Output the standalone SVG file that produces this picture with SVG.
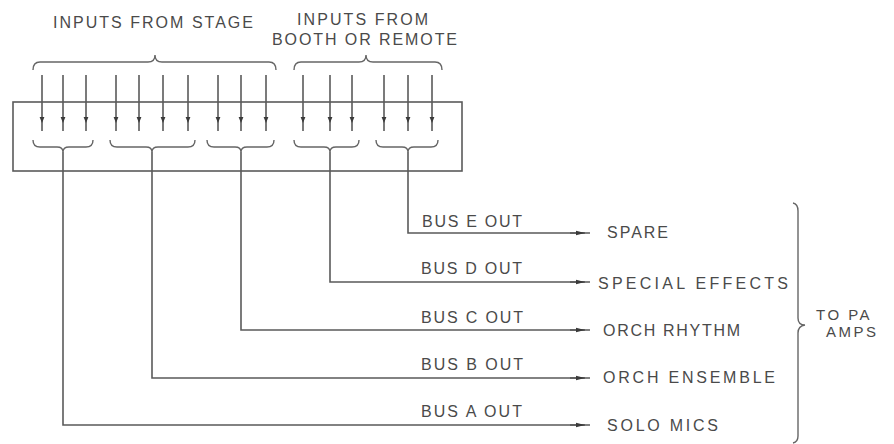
<svg xmlns="http://www.w3.org/2000/svg" width="894" height="444" viewBox="0 0 894 444">
<defs>
<style>
.ln{fill:none;stroke:#5a5a5a;stroke-width:1.6}
.br{fill:none;stroke:#666;stroke-width:1.4}
.t{font-family:"Liberation Sans",Arial,sans-serif;font-size:16px;fill:#4a4a4a}
.pa{font-family:"Liberation Sans",Arial,sans-serif;font-size:15px;fill:#4a4a4a;letter-spacing:2.5px}
</style>
<marker id="ah" viewBox="0 0 10 10" refX="10" refY="5" markerWidth="6" markerHeight="6" orient="auto" markerUnits="userSpaceOnUse">
<path d="M0,1 L10,5 L0,9 Z" fill="#3a3a3a"/>
</marker>
<marker id="ao" viewBox="0 0 12 8" refX="12" refY="4" markerWidth="12" markerHeight="6" orient="auto" markerUnits="userSpaceOnUse">
<path d="M0,1 L12,4 L0,7 Z" fill="#3a3a3a"/>
</marker>
</defs>
<rect width="894" height="444" fill="#fff"/>

<g id="labels-top">
<text class="t" x="53" y="28" textLength="200" lengthAdjust="spacing">INPUTS FROM STAGE</text>
<text class="t" x="297" y="25" textLength="131" lengthAdjust="spacing">INPUTS FROM</text>
<text class="t" x="272" y="45" textLength="185" lengthAdjust="spacing">BOOTH OR REMOTE</text>
</g>

<g id="top-braces">
<path class="br" d="M33,70 Q33,62 40,62 L148,62 Q155,62 155,55 Q155,62 162,62 L269,62 Q276,62 276,70"/>
<path class="br" d="M294,70 Q294,62 301,62 L359,62 Q366,62 366,55 Q366,62 373,62 L435,62 Q442,62 442,70"/>
</g>

<g id="mixer">
<rect class="ln" x="13" y="102" width="449" height="69"/>
<path class="br" d="M33,140 Q33,147 40,147 L57,147 Q63,147 63,152 Q63,147 69,147 L86,147 Q93,147 93,140"/>
<path class="br" d="M110,140 Q110,147 117,147 L146,147 Q152,147 152,152 Q152,147 158,147 L188,147 Q195,147 195,140"/>
<path class="br" d="M207,140 Q207,147 214,147 L235,147 Q241,147 241,152 Q241,147 247,147 L267,147 Q274,147 274,140"/>
<path class="br" d="M294,140 Q294,147 301,147 L324,147 Q330,147 330,152 Q330,147 336,147 L352,147 Q359,147 359,140"/>
<path class="br" d="M376,140 Q376,147 383,147 L402,147 Q408,147 408,152 Q408,147 414,147 L431,147 Q438,147 438,140"/>
</g>

<g id="inputs">
<g class="ln" marker-mid="url(#ah)">
<path d="M42,75 L42,123 L42,131"/>
<path d="M63,75 L63,123 L63,131"/>
<path d="M86,75 L86,123 L86,131"/>
<path d="M116,75 L116,123 L116,131"/>
<path d="M139,75 L139,123 L139,131"/>
<path d="M163,75 L163,123 L163,131"/>
<path d="M188,75 L188,123 L188,131"/>
<path d="M218,75 L218,123 L218,131"/>
<path d="M241,75 L241,123 L241,131"/>
<path d="M266,75 L266,123 L266,131"/>
<path d="M303,75 L303,123 L303,131"/>
<path d="M330,75 L330,123 L330,131"/>
<path d="M352,75 L352,123 L352,131"/>
<path d="M384,75 L384,123 L384,131"/>
<path d="M408,75 L408,123 L408,131"/>
<path d="M432,75 L432,123 L432,131"/>
</g>
</g>

<g id="connectors">
<g class="ln">
<path d="M408,152 L408,233 L590,233"/>
<path d="M330,152 L330,282 L590,282"/>
<path d="M241,152 L241,330 L590,330"/>
<path d="M152,152 L152,378 L590,378"/>
<path d="M63,152 L63,425 L590,425"/>
</g>
<g class="ln" marker-end="url(#ao)">
<path d="M570,233 L585,233"/>
<path d="M570,282 L585,282"/>
<path d="M570,330 L585,330"/>
<path d="M570,378 L585,378"/>
<path d="M570,425 L585,425"/>
</g>
</g>

<g id="bus-labels">
<text class="t" x="422" y="227" textLength="100" lengthAdjust="spacing">BUS E OUT</text>
<text class="t" x="421" y="274" textLength="101" lengthAdjust="spacing">BUS D OUT</text>
<text class="t" x="421" y="323" textLength="102" lengthAdjust="spacing">BUS C OUT</text>
<text class="t" x="421" y="370" textLength="102" lengthAdjust="spacing">BUS B OUT</text>
<text class="t" x="421" y="417" textLength="101" lengthAdjust="spacing">BUS A OUT</text>
</g>

<g id="destinations">
<text class="t" x="607" y="238" textLength="61" lengthAdjust="spacing">SPARE</text>
<text class="t" x="598" y="289" textLength="190" lengthAdjust="spacing">SPECIAL EFFECTS</text>
<text class="t" x="603" y="336" textLength="137" lengthAdjust="spacing">ORCH RHYTHM</text>
<text class="t" x="603" y="383" textLength="172" lengthAdjust="spacing">ORCH ENSEMBLE</text>
<text class="t" x="607" y="431" textLength="111" lengthAdjust="spacing">SOLO MICS</text>
</g>

<g id="pa-amps">
<path class="br" d="M793,203 Q798,204 798,211 L798,318 Q798,325 805,325 Q798,326 798,333 L798,436 Q798,442 793,443"/>
<text class="pa" x="816" y="320">TO PA</text>
<text class="pa" x="826" y="337">AMPS</text>
</g>
</svg>
